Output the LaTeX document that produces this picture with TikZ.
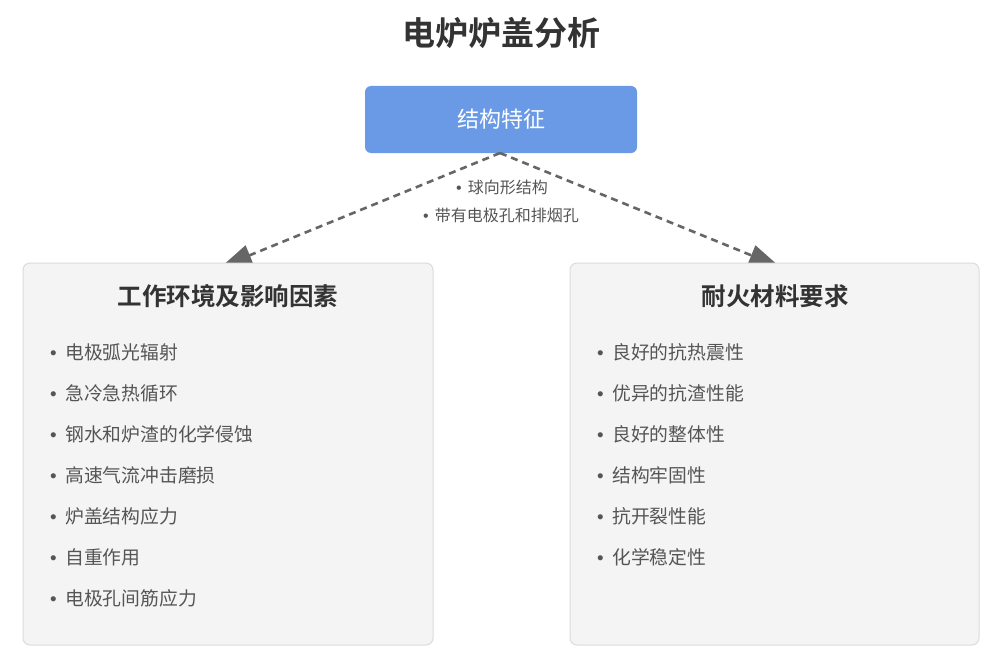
\documentclass[tikz,border=0pt]{standalone}
\usepackage{fontspec}
\setmainfont{Noto Sans CJK SC}[BoldFont={Noto Sans CJK SC Bold}]
\newfontfamily\bulfont{Liberation Sans}
\usetikzlibrary{arrows.meta}
\definecolor{boxblue}{HTML}{6A9AE6}
\definecolor{panelfill}{HTML}{F4F4F4}
\definecolor{panelline}{HTML}{DCDCDC}
\definecolor{darktext}{HTML}{333333}
\definecolor{itemtext}{HTML}{555555}
\definecolor{arrowgray}{HTML}{666666}
\newcommand{\bul}[1]{{\bulfont •}\hspace{#1}}
\tikzset{
  titletext/.style={font=\bfseries\fontsize{33}{33}\selectfont, text=darktext, inner sep=0pt},
  bluebox/.style={draw=none, fill=boxblue, rounded corners=6pt},
  boxtext/.style={font=\fontsize{22}{22}\selectfont, text=white, inner sep=0pt},
  panel/.style={draw=panelline, line width=1pt, fill=panelfill, rounded corners=7pt},
  paneltitle/.style={font=\bfseries\fontsize{24.5}{24.5}\selectfont, text=darktext, inner sep=0pt},
  itemnode/.style={font=\fontsize{18.8}{18.8}\selectfont, text=itemtext, inner sep=0pt, anchor=west},
  sublabel/.style={font=\fontsize{16}{16}\selectfont, text=itemtext, inner sep=0pt},
  conn/.style={draw=arrowgray, line width=2.6pt, dash pattern=on 7pt off 5pt,
    -{Triangle[length=31pt,width=21pt]}},
}
\begin{document}
\begin{tikzpicture}[x=1pt,y=-1pt]
\useasboundingbox (0,0) rectangle (1000,666);
\fill[white] (0,0) rectangle (1000,666);

\node[titletext] (title) at (501,33) {电炉炉盖分析};

% blue box
\path[bluebox] (365,86) rectangle (637,153);
\node[boxtext] (top) at (501,119) {结构特征};
\coordinate (src) at (500,153);
\coordinate (lend) at (221,267);
\coordinate (rend) at (780,267);

% connectors (drawn under panels)
\draw[conn] (src) -- (lend);
\draw[conn] (src) -- (rend);

\node[sublabel] (s1) at (502,187) {\bul{6pt}球向形结构};
\node[sublabel] (s2) at (501,215) {\bul{6pt}带有电极孔和排烟孔};

% panels
\path[panel] (23,263) rectangle (433,645);
\path[panel] (570,263) rectangle (979,645);

\node[paneltitle] (lt) at (228,296) {工作环境及影响因素};
\node[paneltitle] (rt) at (775,296) {耐火材料要求};

\node[itemnode] (l1) at (50,352) {\bul{8.5pt}电极弧光辐射};
\node[itemnode] (l2) at (50,393) {\bul{8.5pt}急冷急热循环};
\node[itemnode] (l3) at (50,434) {\bul{8.5pt}钢水和炉渣的化学侵蚀};
\node[itemnode] (l4) at (50,475) {\bul{8.5pt}高速气流冲击磨损};
\node[itemnode] (l5) at (50,516) {\bul{8.5pt}炉盖结构应力};
\node[itemnode] (l6) at (50,557) {\bul{8.5pt}自重作用};
\node[itemnode] (l7) at (50,598) {\bul{8.5pt}电极孔间筋应力};

\node[itemnode] (r1) at (597,352) {\bul{8.5pt}良好的抗热震性};
\node[itemnode] (r2) at (597,393) {\bul{8.5pt}优异的抗渣性能};
\node[itemnode] (r3) at (597,434) {\bul{8.5pt}良好的整体性};
\node[itemnode] (r4) at (597,475) {\bul{8.5pt}结构牢固性};
\node[itemnode] (r5) at (597,516) {\bul{8.5pt}抗开裂性能};
\node[itemnode] (r6) at (597,557) {\bul{8.5pt}化学稳定性};
\end{tikzpicture}
\end{document}
